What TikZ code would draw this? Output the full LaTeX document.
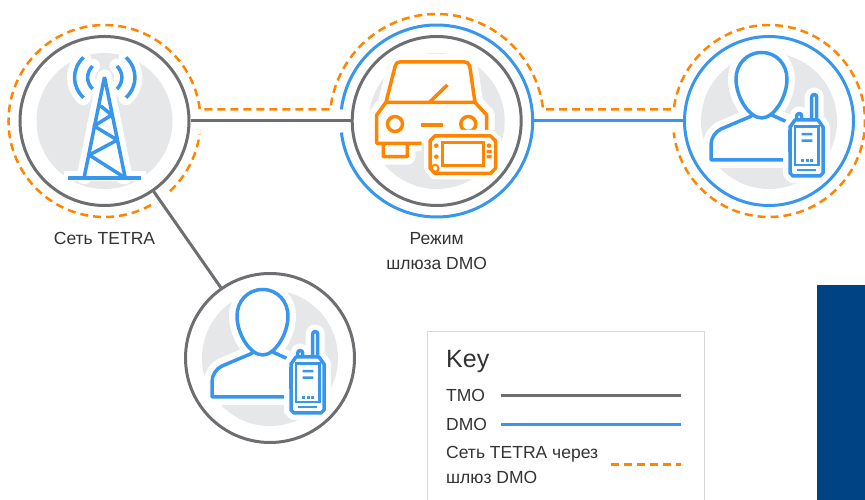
\documentclass[tikz,border=0pt]{standalone}
\usepackage{fontspec}
\setmainfont{Liberation Sans}
\usetikzlibrary{calc}
\definecolor{tmogray}{RGB}{109,110,113}
\definecolor{dmoblue}{RGB}{56,150,236}
\definecolor{viaorange}{RGB}{255,133,0}
\definecolor{disc}{RGB}{230,231,232}
\definecolor{navy}{RGB}{0,67,133}
\definecolor{keyline}{RGB}{216,216,216}
\definecolor{ink}{RGB}{51,51,51}

\newcommand{\towerpath}{
    (0,44) -- (-20.2,-55.7) (0,44) -- (20.5,-55.7)
    (-3.8,15) -- (7.2,6) -- (-10.5,-5) -- (12.8,-19) -- (-15.2,-34) -- (18.8,-55.7)
    (-21,63.7) .. controls (-33,52) and (-33,35) .. (-21,23.3)
    (-12,55) .. controls (-18.5,48) and (-18.5,39) .. (-12,32)
    (21.5,63.7) .. controls (33.5,52) and (33.5,35) .. (21.5,23.3)
    (12.5,55) .. controls (19,48) and (19,39) .. (12.5,32)
}
\newcommand{\personpath}{
    (-7.3,68.5) .. controls (-23,68.5) and (-33,56) .. (-33,42)
    .. controls (-33,24) and (-20,3) .. (-7.3,3)
    .. controls (5,3) and (18,24) .. (18,42)
    .. controls (18,56) and (8,68.5) .. (-7.3,68.5) -- cycle
    (-17.3,5) -- (-48,-8) .. controls (-54,-11) and (-58,-17) .. (-58,-24) -- (-58,-39) -- (18,-39)
    (2.7,6) -- (18,-1)
}
\newcommand{\radiopath}{
    (42.7,1) -- (42.7,24) arc[start angle=180,end angle=0,radius=2.5] -- (47.7,1)
    (27.7,1) -- (27.7,5) arc[start angle=180,end angle=0,radius=2.5] -- (32.7,1)
    (26,1) -- (49,1) -- (54,-6) -- (54,-52) -- (51,-55) -- (24,-55) -- (21,-52) -- (21,-6) -- cycle
}
\newcommand{\carpath}{
    (-50.7,18.7) -- (-41.5,55) .. controls (-41,58) and (-39,59) .. (-37,59) -- (28,59)
    .. controls (30,59) and (32,58) .. (33,55) -- (38.3,18.7) -- cycle
    (-50.7,18.7) -- (-60,6) -- (-60,-22.3) -- (-15,-22.3)
    (38.3,18.7) -- (50,6) -- (50,-9)
    (-53.4,-22.3) -- (-53.4,-35.7) -- (-29.4,-35.7) -- (-29.4,-22.3)
}
\newcommand{\padpath}{
    (-2,-15) -- (54,-15) -- (59,-20) -- (59,-47) -- (54,-52.3) -- (-2,-52.3)
    -- (-6.7,-47) -- (-6.7,-20) -- cycle
}

\tikzset{
    station/.style={circle,draw=tmogray,line width=3pt,minimum size=169pt,inner sep=0pt},
    dmostation/.style={station,draw=dmoblue},
    ring/.style={circle,minimum size=192pt,inner sep=0pt,outer sep=0pt},
    tmo/.style={draw=tmogray,line width=3pt},
    dmo/.style={draw=dmoblue,line width=3pt},
    via/.style={draw=viaorange,line width=2.5pt,dash pattern=on 8pt off 5pt},
    halo/.style={draw=white,fill=white,line width=16pt,line join=round},
    iconline/.style={line width=3.5pt,line join=round},
    caption/.style={text=ink,font=\fontsize{17.5}{25}\selectfont,align=center,inner sep=0pt},
    tower/.pic={
        \fill[disc] (0,0) circle (68);
        \path[draw=white,line width=15pt,line cap=round,line join=round] \towerpath;
        \fill[white] (0,44) -- (-20.2,-55.7) -- (20.5,-55.7) -- cycle;
        \fill[white] (-41,-50) rectangle (41,-60);
        \draw[dmoblue,iconline] \towerpath;
        \fill[dmoblue] (-36.5,-54.7) rectangle (36.5,-58.7);
    },
    person/.pic={
        \fill[disc] (0,0) circle (68);
        \path[halo] \personpath;
        \fill[white] (-58,-39) -- (-58,-24) .. controls (-58,-17) and (-54,-11) .. (-48,-8) -- (-17,5) -- (18,0) -- (18,-39) -- cycle;
        \draw[dmoblue,iconline] \personpath;
        \path[draw=white,fill=white,line width=14pt,line join=round] \radiopath;
        \draw[dmoblue,iconline,fill=white] \radiopath;
        \draw[dmoblue,line width=2.5pt] (26,-5.7) rectangle (49.3,-44);
        \fill[dmoblue] (32.7,-12) rectangle (43.3,-14.5) (32.7,-18.5) rectangle (43.3,-21);
        \foreach \dotx in {33.3,38,42.7}
            \fill[dmoblue] (\dotx-1.5,-38.3) rectangle (\dotx+1.5,-41.3);
        \fill[dmoblue] (28.3,-48) rectangle (47,-50.5);
        \draw[dmoblue,line width=2.5pt] (20,-9) -- (20,-30.7);
    },
    carradio/.pic={
        \fill[disc] (0,0) circle (68);
        \path[halo] \carpath;
        \fill[white] (-50.7,18.7) -- (-41.5,55) -- (33,55) -- (38.3,18.7) -- (50,6) -- (50,-22.3) -- (-60,-22.3) -- (-60,6) -- cycle;
        \draw[viaorange,iconline] \carpath;
        \draw[viaorange,line width=3.5pt] (-6.7,19.3) -- (10.6,36);
        \draw[viaorange,line width=3.5pt] (-41.7,-3) circle (7.5) (31.6,-3) circle (7.5);
        \fill[viaorange] (-16,-1.7) rectangle (6,-5.7);
        \path[draw=white,fill=white,line width=12pt,line join=round] \padpath;
        \draw[viaorange,iconline,fill=white] \padpath;
        \draw[viaorange,line width=3.5pt] (5.6,-21.7) rectangle (46.6,-44.7);
        \draw[viaorange,line width=2pt] (-1.7,-47.3) circle (3.5);
        \fill[viaorange] (-0.4,-24.7) circle (2.3) (-0.4,-35.7) circle (2.3) (52.3,-24.7) circle (2.3);
        \fill[viaorange] (49.8,-29) rectangle (54.8,-32.5) (49.8,-34) rectangle (54.8,-37.5);
    }
}

\begin{document}
\begin{tikzpicture}[x=1pt,y=1pt]
    \useasboundingbox (0,0) rectangle (865,500);

    \node[station] (tetra) at (104.5,379) {};
    \node[station] (gw) at (436.7,379) {};
    \node[dmostation] (user) at (769,379) {};
    \node[station] (handset) at (270,142) {};
    \node[ring] (gwring) at (gw) {};

    \pic at (tetra) {tower};
    \pic at (gw) {carradio};
    \pic at (user) {person};
    \pic at (handset) {person};

    % TMO and DMO links
    \draw[tmo] (tetra) -- (gw);
    \draw[tmo] (tetra) -- (handset);
    \draw[dmo] (gwring.east) -- (user.west);
    \draw[dmo] ([shift=(173.1:96)]gw.center) arc[start angle=173.1,end angle=-173.1,radius=96];

    % link through the gateway
    \draw[via] ([shift=(299:96)]tetra.center) arc[start angle=299,end angle=6.9,radius=96]
        -- ([shift=(173.83:107)]gw.center) arc[start angle=173.83,end angle=6.17,radius=107]
        -- ([shift=(173.1:96)]user.center) arc[start angle=173.1,end angle=-173.1,radius=96];
    \draw[via] ([shift=(-47:96)]tetra.center) arc[start angle=-47,end angle=-8,radius=96];

    \node[caption] (tetralabel) at (104.5,262) {Сеть TETRA};
    \node[caption] (gwlabel) at (436.7,249) {Режим\\шлюза DMO};

    % key
    \fill[navy] (817,0) rectangle (865,215);
    \draw[keyline,line width=1pt] (427,0) -- (427,168.5) -- (704.5,168.5) -- (704.5,0);
    \node[caption,anchor=west,font=\fontsize{25}{25}\selectfont] (keytitle) at (446,139) {Key};
    \node[caption,anchor=west] (tmolabel) at (446,104.5) {TMO};
    \node[caption,anchor=west] (dmolabel) at (446,75.5) {DMO};
    \node[caption,anchor=west,align=left,font=\fontsize{17.5}{24.5}\selectfont] (vialabel) at (446,35) {Сеть TETRA через\\шлюз DMO};
    \coordinate (tmoend) at (681,104.7);
    \coordinate (dmoend) at (681,75.7);
    \coordinate (viastart) at (611,35.3);
    \coordinate (viaend) at (681,35.3);
    \draw[tmo] (501,104.7) -- (tmoend);
    \draw[dmo] (501,75.7) -- (dmoend);
    \draw[via] (viastart) -- (viaend);
\end{tikzpicture}
\end{document}
